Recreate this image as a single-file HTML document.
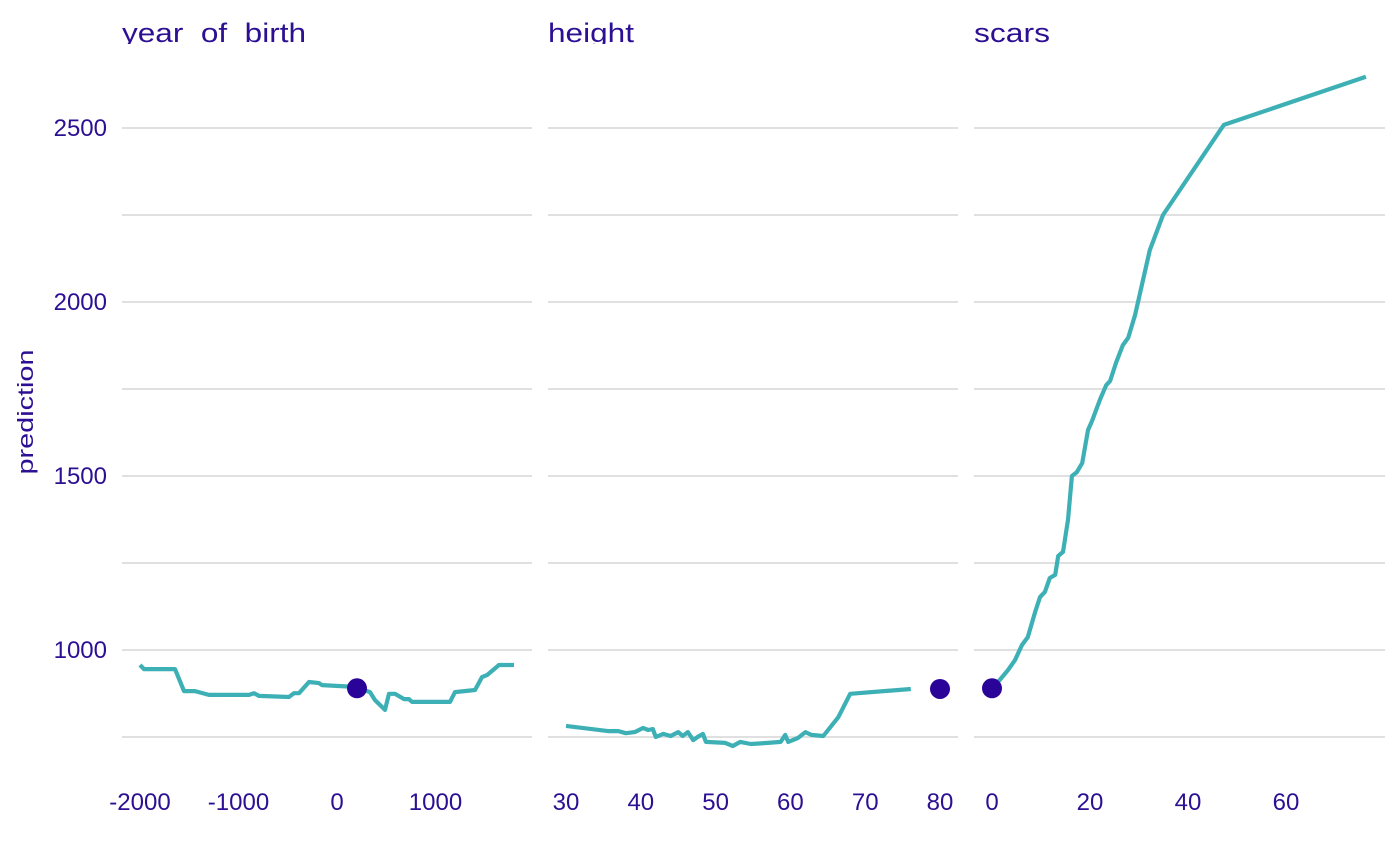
<!DOCTYPE html>
<html><head><meta charset="utf-8"><style>
body{margin:0;background:#fff}
svg{display:block}
text{font-family:"Liberation Sans",Arial,sans-serif;fill:#2c0f93}
</style></head><body>
<svg id="c" width="1400" height="866">
<defs><clipPath id="tc"><rect x="0" y="0" width="1400" height="44"/></clipPath></defs>
</svg>
<script>
const yTicks=[1000,1500,2000,2500];
const yMinor=[750,1250,1750,2250];
const panelTitles=["year  of  birth","height","scars"];
const titleWidths=[184,86,76];
const yobX=[-2000,-1959,-1645,-1553,-1442,-1300,-893,-843,-792,-487,-437,-386,-284,-183,-152,183,335,386,487,528,589,680,731,761,1147,1198,1401,1472,1523,1645,1797];
const yobY=[957,945,945,882,882,871,871,876,868,865,876,876,908,905,899,894,879,856,828,874,874,859,859,851,851,879,885,922,928,957,957];
const heightX=[30,35.6,37.0,38.0,39.2,40.3,41.0,41.6,42.0,43.0,44.0,45.0,45.6,46.3,47.0,47.6,48.3,48.7,51.3,52.3,53.3,54.7,57.0,58.7,59.3,59.7,61.0,62.0,62.8,64.4,66.4,68.0,76.1];
const heightY=[782,767,767,761,764,776,770,773,750,759,753,764,753,764,741,750,759,736,733,724,736,730,733,736,756,736,747,764,756,753,807,874,888];
const scarsX=[0,1.6,3.3,4.7,6.1,7.3,8.8,9.8,10.8,11.8,12.9,13.5,14.5,15.5,16.3,17.3,18.4,19.6,20.4,22.0,23.3,24.1,25.3,26.7,27.8,29.2,32.2,34.9,47.3,76.3];
const scarsY=[891,914,943,971,1014,1037,1109,1152,1167,1207,1216,1270,1282,1374,1500,1511,1537,1632,1658,1718,1761,1773,1825,1876,1897,1963,2149,2250,2509,2647];
const obsX=[203,80,0];
const obsY=[890,888,890];
const xTicks=[[-2000,-1000,0,1000],[30,40,50,60,70,80],[0,20,40,60]];
const ns="http://www.w3.org/2000/svg";
const svg=document.getElementById('c');
function mk(t,a,p){const e=document.createElementNS(ns,t);for(const k in a)e.setAttribute(k,a[k]);(p||svg).appendChild(e);return e;}
const y=v=>650-(v-1000)*0.348;
const panels=[
 {x0:122,x1:532,sx:v=>337+v*0.0985,X:yobX,Y:yobY},
 {x0:548,x1:958,sx:v=>566+(v-30)*7.48,X:heightX,Y:heightY},
 {x0:974,x1:1385,sx:v=>992+v*4.9,X:scarsX,Y:scarsY}];
const lab=mk('text',{x:33,y:412,'font-size':22,'text-anchor':'middle',textLength:125,lengthAdjust:'spacingAndGlyphs',transform:'rotate(-90 33 412)'});


lab.textContent='prediction';
yTicks.forEach(v=>{const t=mk('text',{x:107,y:y(v)+8,'font-size':24,'text-anchor':'end'});


t.textContent=v;});
panels.forEach((p,i)=>{
 const g=mk('g',{});
 
 
 yTicks.concat(yMinor).forEach(v=>{const l=mk('line',{x1:p.x0,x2:p.x1,y1:y(v),y2:y(v),stroke:'#e0e0e0','stroke-width':2},g);
  
  });
 const tt=mk('text',{x:p.x0,y:42,'font-size':27,'clip-path':'url(#tc)',textLength:titleWidths[i],lengthAdjust:'spacingAndGlyphs'},g);
 
 
 tt.style.whiteSpace='pre';
 tt.textContent=panelTitles[i];
 xTicks[i].forEach(v=>{const t=mk('text',{x:p.sx(v),y:810,'font-size':24,'text-anchor':'middle'},g);
  
  
  t.textContent=v;});
 const d=p.X.map((v,j)=>(j?'L':'M')+p.sx(v).toFixed(1)+','+y(p.Y[j]).toFixed(1)).join('');
 const pl=mk('path',{d:d,fill:'none',stroke:'#3db0b6','stroke-width':4.2,'stroke-linejoin':'round'},g);
 
 
 const c=mk('circle',{cx:p.sx(obsX[i]),cy:y(obsY[i]),r:10,fill:'#2a0398'},g);
 
 
});
</script>
</body></html>
